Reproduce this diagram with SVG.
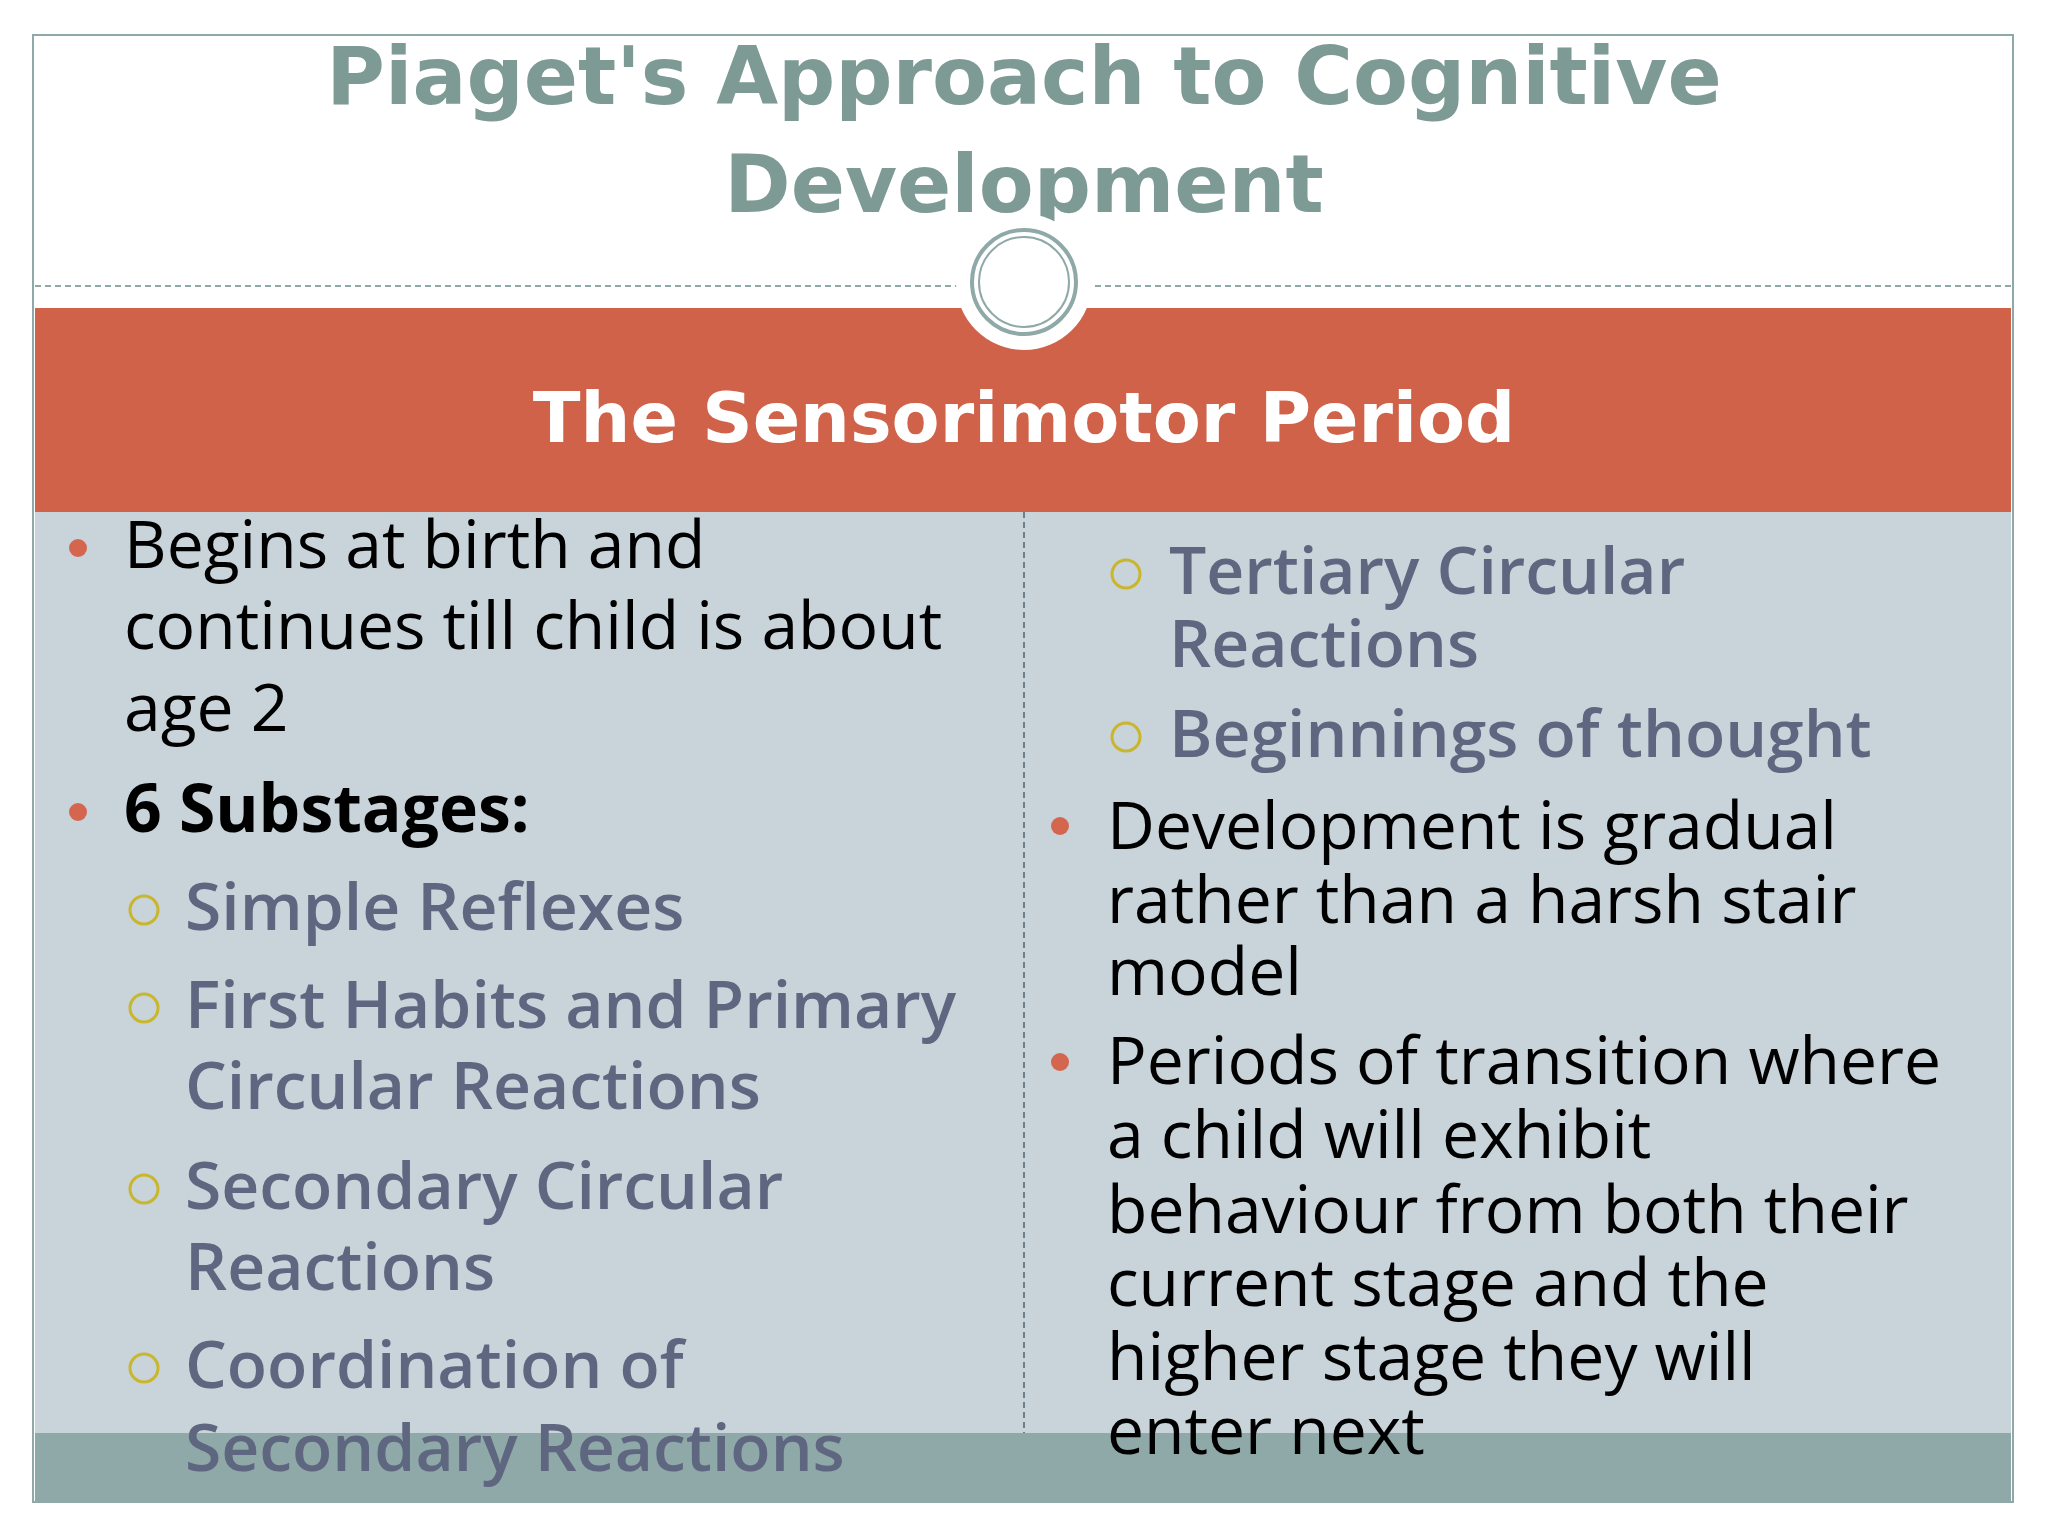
<svg xmlns="http://www.w3.org/2000/svg" width="2048" height="1536" viewBox="0 0 2048 1536">
<style>
.t{font-family:"DejaVu Sans","Noto Sans",sans-serif;font-weight:bold;fill:#7E9A94;font-size:80px}
.b{font-family:"Open Sans","Noto Sans",sans-serif;font-size:66px;fill:#000}
.s{font-family:"Open Sans","Noto Sans",sans-serif;font-size:66px;fill:#5E6680;font-weight:600}
.dot{fill:#D4664F}
.ring{fill:none;stroke:#C9B62C;stroke-width:3}
</style>
<rect x="0" y="0" width="2048" height="1536" fill="#fff"/>
<g id="header">
<rect x="33" y="35" width="1980" height="1467" fill="#fff" stroke="#8FA8A8" stroke-width="2"/>
<text class="t" x="1024" y="104" text-anchor="middle">Piaget's Approach to Cognitive</text>
<text class="t" x="1024" y="212" text-anchor="middle">Development</text>
<line x1="35" y1="286" x2="2011" y2="286" stroke="#8FA8A8" stroke-width="2" stroke-dasharray="6,4"/>
</g>
<g id="band">
<rect x="35" y="308" width="1976" height="204" fill="#D0624A"/>
<circle cx="1024" cy="282" r="68" fill="#fff"/>
<circle cx="1024" cy="282" r="52" fill="none" stroke="#8FA8A8" stroke-width="4"/>
<circle cx="1024" cy="282" r="45" fill="none" stroke="#8FA8A8" stroke-width="2"/>
<text x="1024" y="442" text-anchor="middle" font-family="DejaVu Sans,sans-serif" font-weight="bold" font-size="70" fill="#fff">The Sensorimotor Period</text>
</g>
<g id="body">
<rect x="35" y="512" width="1976" height="921" fill="#C8D3DA"/>
<rect x="35" y="1433" width="1976" height="68" fill="#8FA8A8"/>
<line x1="1024" y1="512" x2="1024" y2="1433" stroke="#6E7E88" stroke-width="2" stroke-dasharray="6,4"/>
</g>
<g id="left">
<circle class="dot" cx="78" cy="548" r="9"/>
<text class="b" x="124" y="568">Begins at birth and</text>
<text class="b" x="124" y="649">continues till child is about</text>
<text class="b" x="124" y="731">age 2</text>
<circle class="dot" cx="78" cy="812" r="9"/>
<text class="b" x="124" y="832" font-weight="bold">6 Substages:</text>
<circle class="ring" cx="144" cy="910" r="14"/>
<text class="s" x="185" y="930">Simple Reflexes</text>
<circle class="ring" cx="144" cy="1008" r="14"/>
<text class="s" x="185" y="1028">First Habits and Primary</text>
<text class="s" x="185" y="1109">Circular Reactions</text>
<circle class="ring" cx="144" cy="1189" r="14"/>
<text class="s" x="185" y="1209">Secondary Circular</text>
<text class="s" x="185" y="1290">Reactions</text>
<circle class="ring" cx="144" cy="1368" r="14"/>
<text class="s" x="185" y="1388">Coordination of</text>
<text class="s" x="185" y="1471">Secondary Reactions</text>
</g>
<g id="right">
<circle class="ring" cx="1126" cy="574" r="14"/>
<text class="s" x="1169" y="594">Tertiary Circular</text>
<text class="s" x="1169" y="667">Reactions</text>
<circle class="ring" cx="1126" cy="737" r="14"/>
<text class="s" x="1169" y="757">Beginnings of thought</text>
<circle class="dot" cx="1060" cy="826" r="9"/>
<text class="b" x="1107" y="849">Development is gradual</text>
<text class="b" x="1107" y="923">rather than a harsh stair</text>
<text class="b" x="1107" y="995">model</text>
<circle class="dot" cx="1060" cy="1062" r="9"/>
<text class="b" x="1107" y="1084">Periods of transition where</text>
<text class="b" x="1107" y="1158">a child will exhibit</text>
<text class="b" x="1107" y="1233">behaviour from both their</text>
<text class="b" x="1107" y="1306">current stage and the</text>
<text class="b" x="1107" y="1380">higher stage they will</text>
<text class="b" x="1107" y="1454">enter next</text>
</g>
</svg>
